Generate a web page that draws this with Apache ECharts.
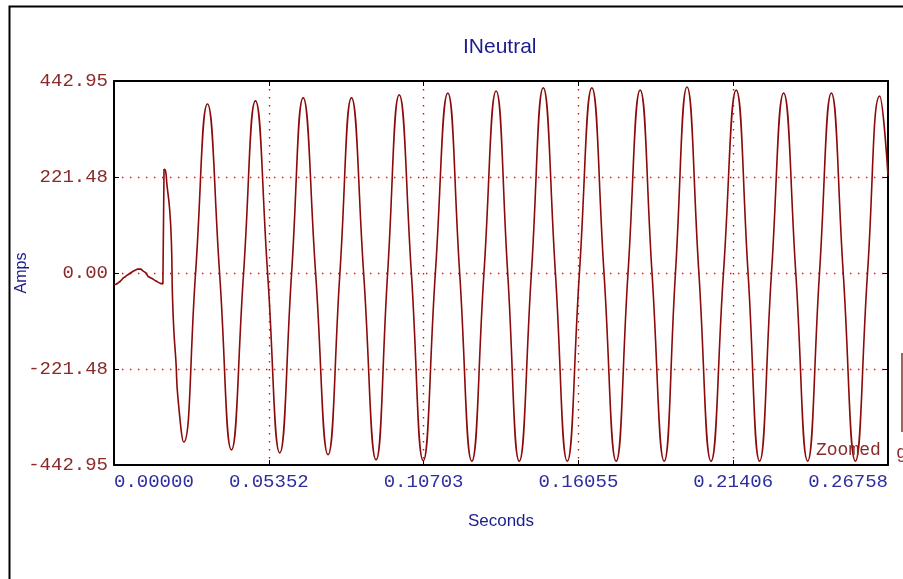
<!DOCTYPE html>
<html>
<head>
<meta charset="utf-8">
<script src="https://cdn.jsdelivr.net/npm/echarts@6/dist/echarts.min.js"></script>
<style>
html,body{margin:0;padding:0;background:#fff;}
#chart{width:903px;height:579px;}
</style>
</head>
<body>
<div id="chart"></div>
<script>
// ---- data ----
const xTickLabels = ['0.00000', '0.05352', '0.10703', '0.16055', '0.21406', '0.26758'];
const yTickLabels = ['-442.95', '-221.48', '0.00', '221.48', '442.95'];

// pre-fault (before the jump), seconds / amps
const preTime = [0.0000, 0.0007, 0.0014, 0.0022, 0.0031, 0.0040, 0.0048, 0.0057, 0.0066, 0.0075, 0.0082, 0.0087, 0.0093, 0.0100, 0.0109, 0.0118, 0.0126, 0.0135, 0.0144, 0.0152, 0.0160, 0.0169, 0.0170, 0.0173];
const preAmps = [-27, -26, -23, -19, -12, -8, -4, 0, 4, 7, 9, 8, 9, 5, 1, -8, -11, -14, -18, -21, -24, -25, -25, 240];

// fault current (spike, then peaks and zero crossings)
const waveTime = [0.0173, 0.0178, 0.0183, 0.0193, 0.0199, 0.0202, 0.0207, 0.0214, 0.0221, 0.0241,
  0.0282, 0.0323, 0.0365, 0.0406, 0.0448, 0.0489, 0.0531, 0.0573, 0.0614, 0.0654,
  0.0697, 0.0740, 0.0781, 0.0821, 0.0863, 0.0906, 0.0946, 0.0986, 0.1028, 0.1069,
  0.1111, 0.1154, 0.1195, 0.1237, 0.1279, 0.1321, 0.1361, 0.1401, 0.1443, 0.1484,
  0.1526, 0.1567, 0.1609, 0.1652, 0.1694, 0.1736, 0.1777, 0.1819, 0.1860, 0.1902,
  0.1941, 0.1981, 0.2022, 0.2064, 0.2107, 0.2151, 0.2192, 0.2232, 0.2273, 0.2315,
  0.2357, 0.2398, 0.2439, 0.2480, 0.2521, 0.2563, 0.2605, 0.2647, 0.26758];
const waveAmps = [240, 236, 204, 142, 58, -50, -134, -203, -288, -390,
  0, 390, 0, -408, 0, 397, 0, -415, 0, 404,
  0, -419, 0, 404, 0, -431, 0, 411, 0, -433,
  0, 415, 0, -434, 0, 420, 0, -434, 0, 427,
  0, -434, 0, 427, 0, -434, 0, 422, 0, -434,
  0, 429, 0, -434, 0, 422, 0, -434, 0, 415,
  0, -434, 0, 415, 0, -434, 0, 408, 225];

const xMin = 0, xMax = 0.26758, xInterval = 0.053516;
const yMin = -442.95, yMax = 442.95, yInterval = 221.475;

const lineColor = '#8b0a0a';
const navy = '#1c1c8e';
const labelBlue = '#2e2ea0';
const labelBrown = '#8b2a2a';

const chart = echarts.init(document.getElementById('chart'), null, {renderer: 'canvas'});

const xLabelFmt = v => xTickLabels[Math.round((v - xMin) / xInterval)] ?? '';
const yLabelFmt = v => yTickLabels[Math.round((v - yMin) / yInterval)] ?? '';

const frameLine = () => ({show: true, onZero: false, lineStyle: {color: '#000', width: 2}});
const innerTick = () => ({show: true, inside: true, length: 5, lineStyle: {color: '#000', width: 1}});
const dotted = () => ({color: '#ff0000', width: 1.4, type: [1.4, 6.6], cap: 'butt', opacity: 1});

chart.setOption({
  animation: false,
  backgroundColor: '#fff',
  title: {
    text: 'INeutral',
    left: 463, top: 37,
    padding: 0,
    textStyle: {color: navy, fontFamily: 'Liberation Sans', fontSize: 21, fontWeight: 'normal'}
  },
  grid: {left: 114, top: 81, right: 15, bottom: 114, outerBoundsMode: 'none', containLabel: false},
  xAxis: [
    {
      type: 'value', position: 'bottom', min: xMin, max: xMax, interval: xInterval,
      axisLine: frameLine(), axisTick: innerTick(),
      axisLabel: {
        formatter: xLabelFmt, color: labelBlue, fontFamily: 'Liberation Mono', fontSize: 19, margin: 7,
        showMinLabel: true, showMaxLabel: true, alignMinLabel: 'left', alignMaxLabel: 'right'
      },
      splitLine: {show: true, showMinLine: false, showMaxLine: false, lineStyle: dotted()},
      name: 'Seconds', nameLocation: 'middle', nameGap: 48,
      nameTextStyle: {color: navy, fontFamily: 'Liberation Sans', fontSize: 17}
    },
    {
      type: 'value', position: 'top', min: xMin, max: xMax, interval: xInterval,
      axisLine: frameLine(), axisTick: innerTick(), axisLabel: {show: false}, splitLine: {show: false}
    }
  ],
  yAxis: [
    {
      type: 'value', position: 'left', min: yMin, max: yMax, interval: yInterval,
      axisLine: frameLine(), axisTick: innerTick(),
      axisLabel: {formatter: yLabelFmt, color: labelBrown, fontFamily: 'Liberation Mono', fontSize: 19, margin: 6},
      splitLine: {show: true, showMinLine: false, showMaxLine: false, lineStyle: dotted()},
      name: 'Amps', nameLocation: 'middle', nameGap: 84, nameRotate: 90, nameMoveOverlap: false,
      nameTextStyle: {color: navy, fontFamily: 'Liberation Sans', fontSize: 16}
    },
    {
      type: 'value', position: 'right', min: yMin, max: yMax, interval: yInterval,
      axisLine: frameLine(), axisTick: innerTick(), axisLabel: {show: false}, splitLine: {show: false}
    }
  ],
  graphic: [
    {type: 'rect', shape: {x: 9.5, y: 6.5, width: 1000, height: 1000}, style: {fill: 'none', stroke: '#000', lineWidth: 2}, silent: true},
    {type: 'text', x: 816, y: 441, style: {text: 'Zoomed', fill: labelBrown, fontFamily: 'Liberation Mono', fontSize: 18}, z: 100},
    {type: 'line', shape: {x1: 902, y1: 353, x2: 902, y2: 432}, style: {stroke: labelBrown, lineWidth: 1.5}},
    {type: 'text', x: 896, y: 444, style: {text: 'g', fill: labelBrown, fontFamily: 'Liberation Mono', fontSize: 18}}
  ],
  series: [
    {
      name: 'pre', type: 'line', xAxisIndex: 0, yAxisIndex: 0, showSymbol: false, smooth: false,
      lineStyle: {color: lineColor, width: 1.6}, itemStyle: {color: lineColor},
      data: preTime.map((t, i) => [t, preAmps[i]])
    },
    {
      name: 'INeutral', type: 'line', xAxisIndex: 0, yAxisIndex: 0, showSymbol: false, smooth: 0.5,
      lineStyle: {color: lineColor, width: 1.6}, itemStyle: {color: lineColor},
      data: waveTime.map((t, i) => [t, waveAmps[i]])
    }
  ]
});
</script>
</body>
</html>
